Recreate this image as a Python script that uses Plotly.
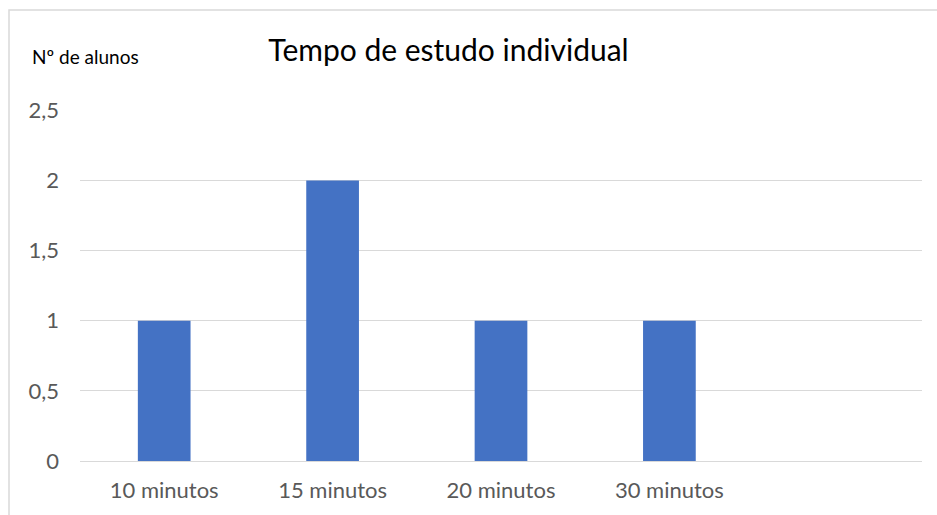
import plotly.graph_objects as go

categories = ["10 minutos", "15 minutos", "20 minutos", "30 minutos"]
values = [1, 2, 1, 1]
y_ticks = [0, 0.5, 1, 1.5, 2, 2.5]
y_ticklabels = ["0", "0,5", "1", "1,5", "2", "2,5"]
title_text = "Tempo de estudo individual"
y_label = "Nº de alunos"

W, H = 937, 515
L, R, T, B = 80, 15, 110, 54
pw = W - L - R
ph = H - T - B

def px_to_paper_x(px):
    return (px - L) / pw

def px_to_paper_y(py):
    return (H - B - py) / ph

xpos = list(range(len(categories)))

fig = go.Figure()
fig.add_trace(go.Bar(
    x=xpos, y=values, width=0.313,
    marker=dict(color="#4472C4", line=dict(width=0)),
    hoverinfo="skip",
))

fig.update_layout(
    width=W, height=H,
    margin=dict(l=L, r=R, t=T, b=B),
    paper_bgcolor="white", plot_bgcolor="white",
    font=dict(family="Lato", color="#595959"),
    showlegend=False,
    title=dict(text=title_text, x=448.5 / W, xanchor="center", xref="container",
               y=1 - 50 / H, yanchor="middle", yref="container",
               font=dict(family="Lato", size=30, color="#000000")),
    xaxis=dict(range=[-0.5, 4.5], tickvals=xpos, ticktext=categories,
               showgrid=False, zeroline=False, showline=False, ticks="",
               ticklabelstandoff=14,
               tickfont=dict(size=22, color="#595959")),
    yaxis=dict(range=[0, 2.503], tickvals=y_ticks, ticktext=y_ticklabels,
               showgrid=True, gridcolor="#d9d9d9", gridwidth=1.3,
               zeroline=True, zerolinecolor="#d9d9d9", zerolinewidth=1.3,
               showline=False, ticks="", ticklabelstandoff=20,
               tickfont=dict(size=22, color="#595959")),
    annotations=[dict(text=y_label, xref="paper", yref="paper",
                      x=px_to_paper_x(30), y=px_to_paper_y(57),
                      xanchor="left", yanchor="middle", showarrow=False,
                      font=dict(family="Lato", size=19, color="#000000"))],
    shapes=[dict(type="rect", xref="paper", yref="paper",
                 x0=px_to_paper_x(9), x1=px_to_paper_x(945),
                 y0=px_to_paper_y(525), y1=px_to_paper_y(10),
                 line=dict(color="#d9d9d9", width=1.5), fillcolor="rgba(0,0,0,0)",
                 layer="below")],
)

fig.write_html("out.html", config={"displayModeBar": False},
               post_script="document.body.style.margin='0';")
